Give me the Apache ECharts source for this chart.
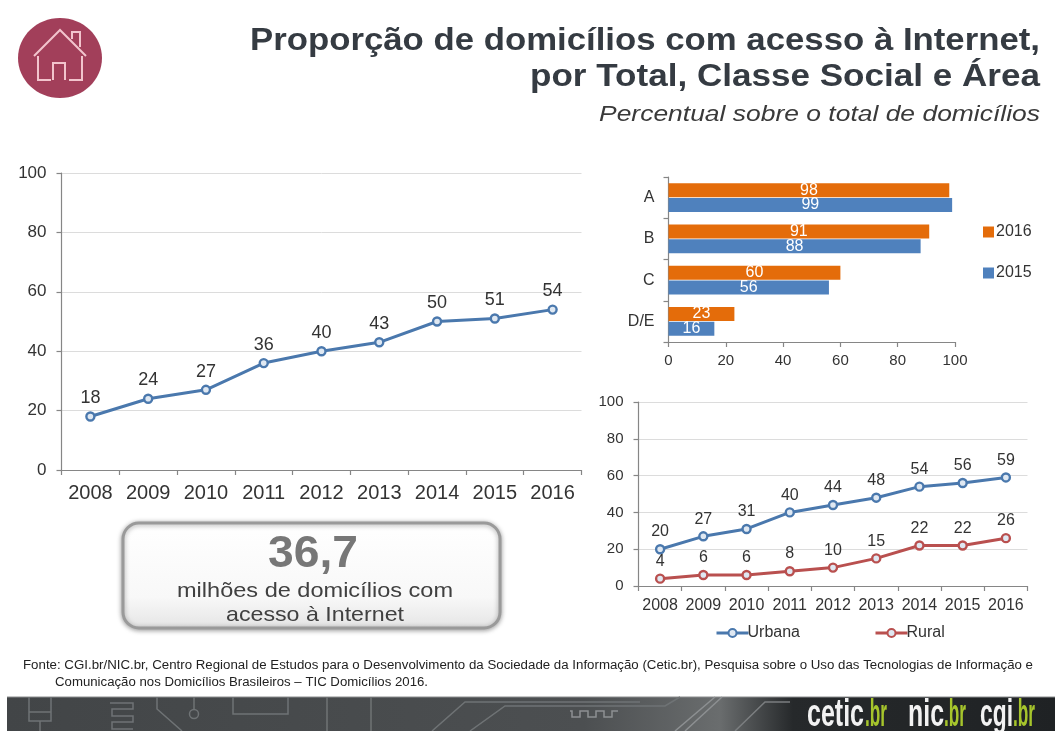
<!DOCTYPE html>
<html lang="pt-BR">
<head>
<meta charset="utf-8">
<title>Proporção de domicílios com acesso à Internet</title>
<style>
  html, body { margin: 0; padding: 0; background: #fff; }
  #chart { width: 1055px; height: 731px; }
</style>
<script src="https://cdn.jsdelivr.net/npm/echarts@6/dist/echarts.min.js"></script>
</head>
<body>
<div id="chart"></div>
<script>
// Series values
const years = ['2008', '2009', '2010', '2011', '2012', '2013', '2014', '2015', '2016'];
const totalValues = [18, 24, 27, 36, 40, 43, 50, 51, 54];
const classes = ['A', 'B', 'C', 'D/E'];
const class2016 = [98, 91, 60, 23];
const class2015 = [99, 88, 56, 16];
const urbanValues = [20, 27, 31, 40, 44, 48, 54, 56, 59];
const ruralValues = [4, 6, 6, 8, 10, 15, 22, 22, 26];
const valueTicks = { min: 0, max: 100, interval: 20 };

// Text
const titleLine1 = 'Proporção de domicílios com acesso à Internet,';
const titleLine2 = 'por Total, Classe Social e Área';
const subtitle = 'Percentual sobre o total de domicílios';
const highlightValue = '36,7';
const highlightLine1 = 'milhões de domicílios com';
const highlightLine2 = 'acesso à Internet';
const sourceLine1 = 'Fonte: CGI.br/NIC.br, Centro Regional de Estudos para o Desenvolvimento da Sociedade da Informação (Cetic.br), Pesquisa sobre o Uso das Tecnologias de Informação e';
const sourceLine2 = 'Comunicação nos Domicílios Brasileiros – TIC Domicílios 2016.';

const FONT = '"Liberation Sans", Arial, sans-serif';
const BLUE = '#4a78ad';
const RED = '#b9504f';
const ORANGE = '#e46c0a';
const BAR_BLUE = '#4f81bd';
const AXIS = '#868686';
const GRID = '#dcdcdc';
const INK = '#333333';

const axisLine = { show: true, lineStyle: { color: AXIS, width: 1.2 } };
const axisTick = { show: true, length: 5, lineStyle: { color: AXIS, width: 1.2 } };

function lineSeries(name, values, color, idx, fontSize, dist) {
  return {
    name, type: 'line', data: values, xAxisIndex: idx, yAxisIndex: idx,
    symbol: 'circle', symbolSize: 8, showAllSymbol: true,
    lineStyle: { color, width: 3 },
    itemStyle: { color: '#dfe8f2', borderColor: color, borderWidth: 2.4 },
    label: { show: true, position: 'top', distance: dist, fontFamily: FONT, fontSize, color: INK },
    z: 3
  };
}

// Stroked paths for the house badge and the footer wiring
function trace(points, color, width) {
  return { type: 'polyline', silent: true, shape: { points },
           style: { stroke: color || '#6f7375', lineWidth: width || 1.5, fill: null } };
}

// Horizontally stretched label fitted to a target width
const measureCtx = document.createElement('canvas').getContext('2d');
function fittedText(text, x, y, width, font, fill, align) {
  measureCtx.font = font;
  return { type: 'text', silent: true, x, y, scaleX: width / measureCtx.measureText(text).width,
           style: { text, fill, font, align: align || 'left', verticalAlign: 'middle' } };
}
function logoText(text, x, width, fill) {
  return fittedText(text, x, 716, width, 'bold 38px "Liberation Sans", sans-serif', fill);
}

const graphic = [
  // House badge
  { type: 'ellipse', silent: true, shape: { cx: 60, cy: 58, rx: 42, ry: 40 }, style: { fill: '#a23f5a' } },
  trace([[34, 56], [60, 30], [86, 56]], '#f2c4cd', 2),
  trace([[72, 39], [72, 32], [80, 32], [80, 47]], '#f2c4cd', 2),
  trace([[38, 56], [38, 80], [51, 80]], '#f2c4cd', 2),
  trace([[82, 56], [82, 80], [69, 80]], '#f2c4cd', 2),
  trace([[53, 80], [53, 63], [65, 63], [65, 80]], '#f2c4cd', 2),

  // Report heading
  fittedText(titleLine1, 1040, 41, 790, 'bold 31px ' + FONT, '#353b42', 'right'),
  fittedText(titleLine2, 1040, 77, 510, 'bold 31px ' + FONT, '#353b42', 'right'),
  fittedText(subtitle, 1040, 115, 441, 'italic 22px ' + FONT, '#3a3a3a', 'right'),

  // Highlight box
  { type: 'rect', silent: true, shape: { x: 123, y: 523, width: 377, height: 105, r: 16 },
    style: {
      fill: { type: 'linear', x: 0, y: 0, x2: 0, y2: 1,
              colorStops: [{ offset: 0, color: '#ffffff' }, { offset: 0.7, color: '#f8f8f8' }, { offset: 1, color: '#e4e4e4' }] },
      stroke: '#9a9a9a', lineWidth: 3, shadowBlur: 5, shadowColor: 'rgba(0,0,0,0.35)', shadowOffsetY: 1
    } },
  fittedText(highlightValue, 313, 555, 90, 'bold 44px ' + FONT, '#777777', 'center'),
  fittedText(highlightLine1, 315, 591, 276, '21px ' + FONT, '#404040', 'center'),
  fittedText(highlightLine2, 315, 615, 178, '21px ' + FONT, '#404040', 'center'),

  // Source note
  fittedText(sourceLine1, 23, 666, 1010, '12.5px ' + FONT, '#222222'),
  fittedText(sourceLine2, 55, 683, 373, '12.5px ' + FONT, '#222222'),

  // Footer band
  { type: 'rect', silent: true, shape: { x: 7, y: 697, width: 1048, height: 34 },
    style: { fill: { type: 'linear', x: 0, y: 0, x2: 1, y2: 0,
      colorStops: [{ offset: 0, color: '#424547' }, { offset: 0.55, color: '#4c4f51' },
                   { offset: 0.68, color: '#6a6d6e' }, { offset: 0.75, color: '#26292b' }, { offset: 1, color: '#1f2224' }] } } },
  { type: 'line', silent: true, shape: { x1: 7, y1: 697, x2: 1055, y2: 697 }, style: { stroke: '#8a8c8d', lineWidth: 1 } },
  trace([[29, 697], [29, 721], [51, 721], [51, 697]]),
  trace([[29, 712], [51, 712]]),
  trace([[40, 721], [40, 731]]),
  trace([[110, 703], [133, 703], [133, 709], [112, 709], [112, 716], [133, 716], [133, 722], [112, 722], [112, 729], [133, 729]]),
  trace([[157, 697], [157, 709], [182, 731]]),
  trace([[194, 697], [194, 710]]),
  { type: 'circle', silent: true, shape: { cx: 194, cy: 714, r: 4.5 }, style: { stroke: '#6f7375', lineWidth: 1.5, fill: null } },
  trace([[233, 697], [233, 714], [288, 714], [288, 697]]),
  trace([[327, 697], [327, 731]]),
  trace([[371, 697], [371, 731]]),
  trace([[432, 731], [465, 702], [640, 702]]),
  trace([[470, 731], [505, 706], [665, 706], [680, 697]]),
  trace([[570, 711], [572, 711], [572, 717], [580, 717], [580, 711], [588, 711], [588, 717], [596, 717], [596, 711], [604, 711], [604, 717], [612, 717], [612, 711], [618, 711]], '#8d9092'),
  trace([[675, 731], [715, 697]], '#8d9092'),
  trace([[685, 731], [722, 697]], '#8d9092'),
  trace([[735, 731], [765, 702], [790, 702]], '#7b7e80'),
  logoText('cetic', 807, 57, '#f2f2f2'),
  logoText('.br', 865, 22, '#a6c52c'),
  logoText('nic', 908, 36, '#f2f2f2'),
  logoText('.br', 944, 22, '#a6c52c'),
  logoText('cgi', 980, 33, '#f2f2f2'),
  logoText('.br', 1013, 22, '#a6c52c')
];

const areaLegendText = { fontFamily: FONT, fontSize: 16, color: INK, padding: [0, 0, 0, -6] };
const yearLegendText = { fontFamily: FONT, fontSize: 16, color: INK, padding: [0, 0, 0, -3] };

const option = {
  animation: false,
  backgroundColor: '#ffffff',
  textStyle: { fontFamily: FONT },
  legend: [
    { data: ['2016', '2015'], orient: 'vertical', left: 978, top: 219, itemWidth: 11, itemHeight: 11, itemGap: 25,
      icon: 'rect', textStyle: yearLegendText },
    { data: ['Urbana'], left: 710, top: 620, itemWidth: 32, itemHeight: 10, lineStyle: { width: 3 }, textStyle: areaLegendText },
    { data: ['Rural'], left: 869, top: 620, itemWidth: 32, itemHeight: 10, lineStyle: { width: 3 }, textStyle: areaLegendText }
  ],
  grid: [
    { left: 61.5, top: 173, width: 520, height: 297 },
    { left: 668.5, top: 177, width: 286.5, height: 165 },
    { left: 638.5, top: 402, width: 389, height: 184 }
  ],
  xAxis: [
    { gridIndex: 0, type: 'category', data: years, axisLine, axisTick,
      axisLabel: { interval: 0, fontFamily: FONT, fontSize: 20, color: INK, margin: 13 } },
    { gridIndex: 1, type: 'value', ...valueTicks, axisLine, axisTick, splitLine: { show: false },
      axisLabel: { fontFamily: FONT, fontSize: 15, color: INK, margin: 11 } },
    { gridIndex: 2, type: 'category', data: years, axisLine, axisTick,
      axisLabel: { interval: 0, fontFamily: FONT, fontSize: 16, color: INK, margin: 12 } }
  ],
  yAxis: [
    { gridIndex: 0, type: 'value', ...valueTicks, axisLine, axisTick,
      splitLine: { lineStyle: { color: GRID } },
      axisLabel: { fontFamily: FONT, fontSize: 17, color: INK, margin: 15 } },
    { gridIndex: 1, type: 'category', data: classes, inverse: true, axisLine, axisTick,
      axisLabel: { fontFamily: FONT, fontSize: 16, color: INK, margin: 14 } },
    { gridIndex: 2, type: 'value', ...valueTicks, axisLine, axisTick,
      splitLine: { lineStyle: { color: GRID } },
      axisLabel: { fontFamily: FONT, fontSize: 15, color: INK, margin: 15 } }
  ],
  series: [
    lineSeries('Total', totalValues, BLUE, 0, 18, 4),
    { name: '2016', type: 'bar', data: class2016, xAxisIndex: 1, yAxisIndex: 1, barWidth: 14, barGap: '5%',
      itemStyle: { color: ORANGE },
      label: { show: true, position: 'inside', fontFamily: FONT, fontSize: 16, color: '#ffffff' } },
    { name: '2015', type: 'bar', data: class2015, xAxisIndex: 1, yAxisIndex: 1, barWidth: 14,
      itemStyle: { color: BAR_BLUE },
      label: { show: true, position: 'inside', fontFamily: FONT, fontSize: 16, color: '#ffffff' } },
    lineSeries('Urbana', urbanValues, BLUE, 2, 16, 4),
    lineSeries('Rural', ruralValues, RED, 2, 16, 4)
  ],
  graphic
};

echarts.init(document.getElementById('chart'), null, { renderer: 'canvas' }).setOption(option);
</script>
</body>
</html>
